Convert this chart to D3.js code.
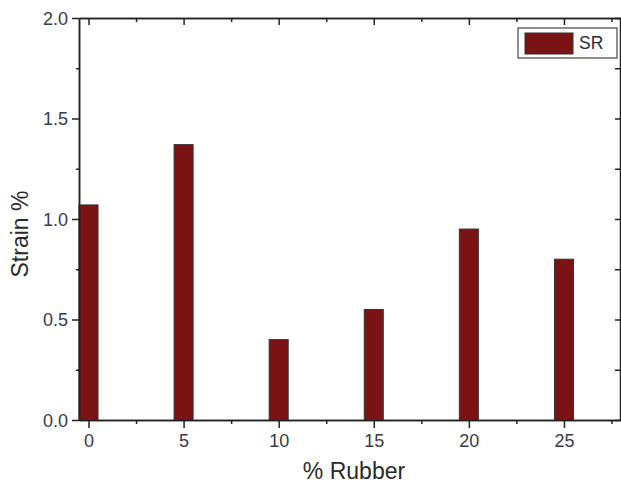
<!DOCTYPE html>
<html>
<head>
<meta charset="utf-8">
<script src="https://d3js.org/d3.v7.min.js"></script>
<style>
  body { margin: 0; background: #fff; }
  text { font-family: "Liberation Sans", Arial, sans-serif; }
</style>
</head>
<body>
<script>
// data
var rubber = [0, 5, 10, 15, 20, 25];
var strain = [1.07, 1.37, 0.40, 0.55, 0.95, 0.80];
var xTicks = [0, 5, 10, 15, 20, 25];
var yTicks = [0.0, 0.5, 1.0, 1.5, 2.0];
var seriesName = "SR";

var W = 621, H = 486;
var pLeft = 79, pRight = 621, pTop = 18, pBottom = 420;

var svg = d3.select("body").append("svg")
    .attr("width", W)
    .attr("height", H);

var x = d3.scaleLinear().domain([-0.5, 28]).range([pLeft, pRight]);
var y = d3.scaleLinear().domain([0, 2]).range([pBottom, pTop]);

var ink = "#222";
var labelColor = "#3a3a4a";
var barFill = "#7b1315";

// bars
svg.selectAll(".bar")
    .data(rubber)
  .enter().append("rect")
    .attr("class", "bar")
    .attr("x", function(d) { return x(d - 0.5); })
    .attr("width", x(1) - x(0))
    .attr("y", function(d, i) { return y(strain[i]); })
    .attr("height", function(d, i) { return pBottom - y(strain[i]); })
    .style("fill", barFill)
    .style("stroke", "#333")
    .style("stroke-width", 1);

// minor tick values
var xMinor = d3.range(2.5, 28, 5);
var yMinor = d3.range(0.25, 2, 0.5);

// bottom axis
var gx = svg.append("g")
    .attr("transform", "translate(0," + pBottom + ")")
    .call(d3.axisBottom(x).tickValues(xTicks).tickSize(8).tickSizeOuter(0).tickFormat(d3.format("d")));
gx.attr("font-size", 18).attr("font-family", "Liberation Sans, Arial, sans-serif");
gx.selectAll("text").attr("y", 27).attr("dy", null).style("fill", labelColor);
svg.append("g")
    .attr("transform", "translate(0," + pBottom + ")")
    .call(d3.axisBottom(x).tickValues(xMinor).tickSize(4).tickSizeOuter(0).tickFormat(""));

// top axis (ticks pointing in)
svg.append("g")
    .attr("transform", "translate(0," + pTop + ")")
    .call(d3.axisBottom(x).tickValues(xTicks).tickSize(7).tickSizeOuter(0).tickFormat(""));
svg.append("g")
    .attr("transform", "translate(0," + pTop + ")")
    .call(d3.axisBottom(x).tickValues(xMinor).tickSize(4).tickSizeOuter(0).tickFormat(""));

// left axis
var gy = svg.append("g")
    .attr("transform", "translate(" + pLeft + ",0)")
    .call(d3.axisLeft(y).tickValues(yTicks).tickSize(7).tickSizeOuter(0).tickFormat(d3.format(".1f")));
gy.attr("font-size", 18).attr("font-family", "Liberation Sans, Arial, sans-serif");
gy.selectAll("text").style("fill", labelColor).attr("x", -11).attr("dy", null).attr("y", 6);
svg.append("g")
    .attr("transform", "translate(" + pLeft + ",0)")
    .call(d3.axisLeft(y).tickValues(yMinor).tickSize(3).tickSizeOuter(0).tickFormat(""));

// right axis ticks (pointing in)
svg.append("g")
    .attr("transform", "translate(" + (pRight - 1) + ",0)")
    .call(d3.axisRight(y).tickValues(yTicks.concat(yMinor)).tickSize(-5).tickSizeOuter(0).tickFormat(""));

svg.selectAll(".domain").style("stroke", ink).style("stroke-width", 1.5);
svg.selectAll(".tick line").style("stroke", ink).style("stroke-width", 1.5);

// axis titles
svg.append("text")
    .attr("x", 354)
    .attr("y", 479)
    .attr("text-anchor", "middle")
    .style("font-size", "23px")
    .style("fill", "#2a2a2a")
    .text("% Rubber");

svg.append("text")
    .attr("transform", "translate(28,234) rotate(-90)")
    .attr("text-anchor", "middle")
    .style("font-size", "23px")
    .style("fill", "#2a2a2a")
    .text("Strain %");

// legend
var lg = svg.append("g").attr("transform", "translate(518,28)");
lg.append("rect")
    .attr("width", 99).attr("height", 30)
    .style("fill", "#fff").style("stroke", "#444").style("stroke-width", 1.2);
lg.append("rect")
    .attr("x", 7).attr("y", 5).attr("width", 48).attr("height", 21)
    .style("fill", barFill).style("stroke", "#333");
lg.append("text")
    .attr("x", 61).attr("y", 21)
    .style("font-size", "17.5px")
    .style("fill", "#2a2a3a")
    .text(seriesName);
</script>
</body>
</html>
